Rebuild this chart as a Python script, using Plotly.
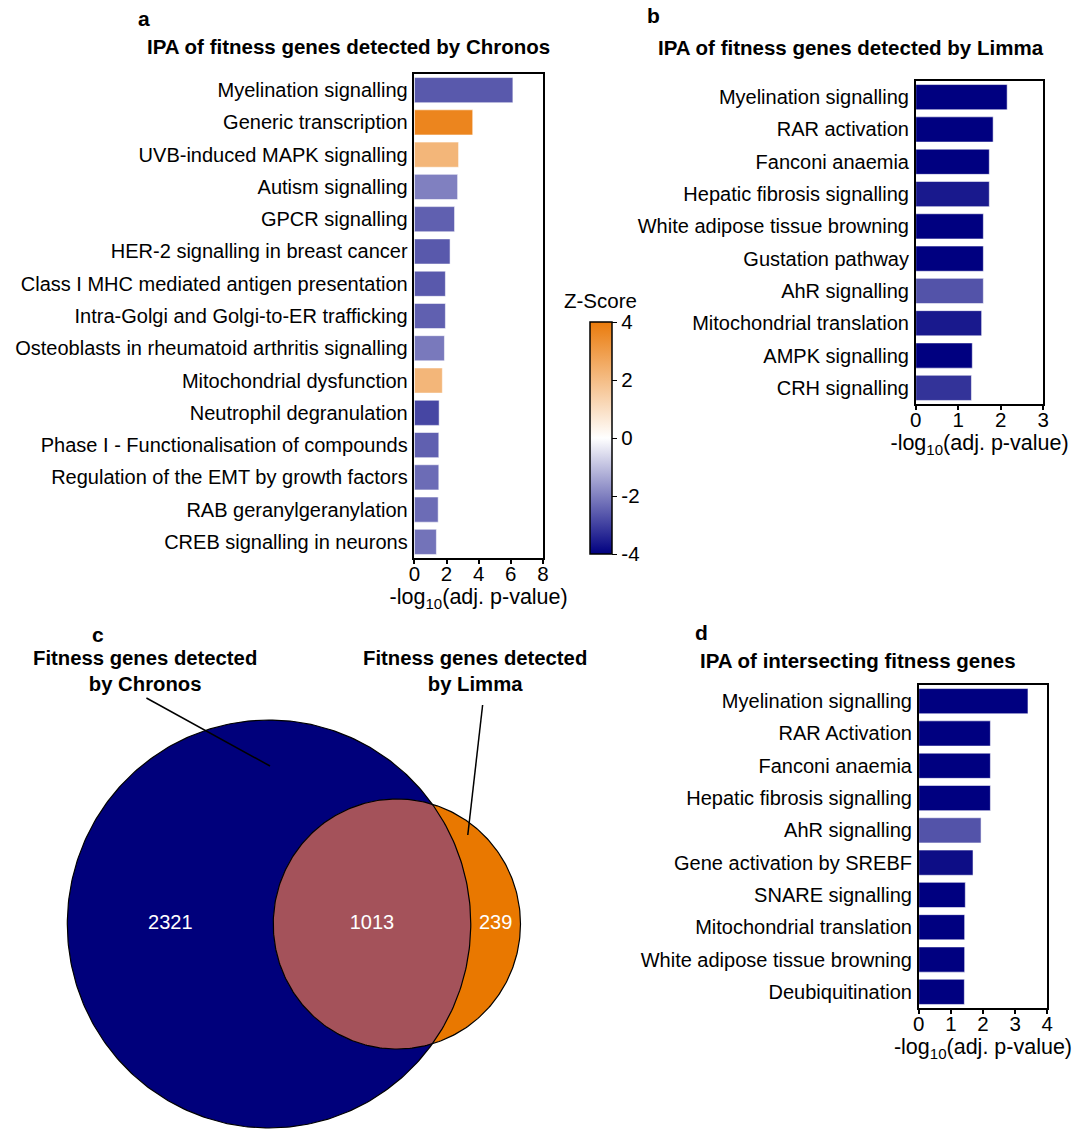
import numpy as np
import plotly.graph_objects as go

W, H = 1076, 1129
FONT = "Liberation Sans, Arial, sans-serif"

# ---- panel a: IPA, Chronos fitness genes ----
a_paths = [
    "Myelination signalling", "Generic transcription", "UVB-induced MAPK signalling",
    "Autism signalling", "GPCR signalling", "HER-2 signalling in breast cancer",
    "Class I MHC mediated antigen presentation", "Intra-Golgi and Golgi-to-ER trafficking",
    "Osteoblasts in rheumatoid arthritis signalling", "Mitochondrial dysfunction",
    "Neutrophil degranulation", "Phase I - Functionalisation of compounds",
    "Regulation of the EMT by growth factors", "RAB geranylgeranylation",
    "CREB signalling in neurons",
]
a_logp = [6.13, 3.63, 2.75, 2.69, 2.50, 2.22, 1.93, 1.93, 1.87, 1.74, 1.54, 1.52, 1.52, 1.48, 1.37]
a_z = [-2.6, 3.7, 2.2, -2.0, -2.5, -2.6, -2.6, -2.5, -2.1, 2.2, -2.9, -2.5, -2.3, -2.3, -2.2]

# ---- panel b: IPA, Limma fitness genes ----
b_paths = [
    "Myelination signalling", "RAR activation", "Fanconi anaemia", "Hepatic fibrosis signalling",
    "White adipose tissue browning", "Gustation pathway", "AhR signalling",
    "Mitochondrial translation", "AMPK signalling", "CRH signalling",
]
b_logp = [2.15, 1.82, 1.73, 1.73, 1.59, 1.59, 1.59, 1.55, 1.33, 1.31]
b_z = [-4.0, -4.0, -4.0, -3.6, -4.0, -4.0, -2.7, -3.6, -4.0, -3.2]

# ---- panel d: IPA, intersecting fitness genes ----
d_paths = [
    "Myelination signalling", "RAR Activation", "Fanconi anaemia", "Hepatic fibrosis signalling",
    "AhR signalling", "Gene activation by SREBF", "SNARE signalling",
    "Mitochondrial translation", "White adipose tissue browning", "Deubiquitination",
]
d_logp = [3.40, 2.23, 2.23, 2.23, 1.94, 1.69, 1.45, 1.43, 1.43, 1.42]
d_z = [-4.0, -4.0, -4.0, -4.0, -2.7, -3.8, -4.0, -4.0, -4.0, -4.0]

# ---- panel c: Venn counts ----
venn_sets = ["Chronos only", "Both", "Limma only"]
venn_counts = [2321, 1013, 239]

# colour bar ticks
z_ticks = [-4, -2, 0, 2, 4]
z_ticktext = ["-4", "-2", "0", "2", "4"]

ZSCALE = [[0.0, "#000080"], [0.5, "#ffffff"], [1.0, "#ea7b0c"]]
NAVY, ORANGE, LENS = "#00007b", "#e97800", "#a4525a"


def px_x(p):
    return p / W


def px_y(p):
    return 1 - p / H


fig = go.Figure()


def add_bars(names, vals, zs, xa, ya, showscale=False):
    fig.add_trace(go.Bar(
        y=names, x=vals, orientation="h", xaxis=xa, yaxis=ya,
        marker=dict(
            color=zs, colorscale=ZSCALE, cmin=-4, cmax=4, showscale=showscale,
            line=dict(color="rgba(255,255,255,0.55)", width=1),
            colorbar=dict(
                x=px_x(591), xanchor="left", xpad=0, ypad=0,
                y=px_y(554), yanchor="bottom", len=232 / H, lenmode="fraction",
                thickness=22, thicknessmode="pixels",
                tickvals=z_ticks, ticktext=z_ticktext, ticks="outside", ticklen=5,
                tickcolor="black", tickfont=dict(size=20.5, family=FONT, color="black"),
                outlinecolor="black", outlinewidth=1.5,
            ) if showscale else None,
        ),
        hoverinfo="x+y", showlegend=False,
    ))


add_bars(a_paths, a_logp, a_z, "x", "y", showscale=True)
add_bars(b_paths, b_logp, b_z, "x2", "y2")
add_bars(d_paths, d_logp, d_z, "x3", "y3")

# ---- Venn geometry: circle areas proportional to set sizes ----
nA = venn_counts[0] + venn_counts[1]
nB = venn_counts[1] + venn_counts[2]
r1, r2 = np.sqrt(nA), np.sqrt(nB)
target = venn_counts[1] * np.pi  # overlap area in the same units


def lens_area(d):
    c1 = np.clip((d * d + r1 * r1 - r2 * r2) / (2 * d * r1), -1, 1)
    c2 = np.clip((d * d + r2 * r2 - r1 * r1) / (2 * d * r2), -1, 1)
    k = (-d + r1 + r2) * (d + r1 - r2) * (d - r1 + r2) * (d + r1 + r2)
    return r1 * r1 * np.arccos(c1) + r2 * r2 * np.arccos(c2) - 0.5 * np.sqrt(max(k, 0))


lo, hi = r1 - r2 + 1e-9, r1 + r2 - 1e-9
for _ in range(80):
    mid = 0.5 * (lo + hi)
    if lens_area(mid) > target:
        lo = mid
    else:
        hi = mid
dist = 0.5 * (lo + hi)

t = np.linspace(0, 2 * np.pi, 361)
bx, by = r1 * np.cos(t), r1 * np.sin(t)
sx, sy = dist + r2 * np.cos(t), r2 * np.sin(t)

xi = (dist ** 2 + r1 ** 2 - r2 ** 2) / (2 * dist)
yi = np.sqrt(r1 ** 2 - xi ** 2)
th = np.arctan2(yi, xi)
ph = np.arctan2(yi, xi - dist)
ta = np.linspace(-th, th, 120)
tb = np.linspace(ph, 2 * np.pi - ph, 200)
lx = np.concatenate([r1 * np.cos(ta), dist + r2 * np.cos(tb)])
ly = np.concatenate([r1 * np.sin(ta), r2 * np.sin(tb)])

for xs, ys, col in [(bx, by, NAVY), (sx, sy, ORANGE), (lx, ly, LENS)]:
    fig.add_trace(go.Scatter(x=xs, y=ys, xaxis="x4", yaxis="y4", mode="lines",
                             fill="toself", fillcolor=col, line=dict(width=0, color=col),
                             hoverinfo="skip", showlegend=False))
for xs, ys in [(bx, by), (sx, sy)]:
    fig.add_trace(go.Scatter(x=xs, y=ys, xaxis="x4", yaxis="y4", mode="lines",
                             line=dict(width=1.2, color="black"),
                             hoverinfo="skip", showlegend=False))

label_x = [(-r1 + dist - r2) / 2, (dist - r2 + r1) / 2, (r1 + dist + r2) / 2]
fig.add_trace(go.Scatter(
    x=label_x, y=[0, 0, 0], xaxis="x4", yaxis="y4", mode="text",
    text=[str(v) for v in venn_counts], customdata=venn_sets,
    textfont=dict(size=20, color="white", family=FONT),
    hovertemplate="%{customdata}: %{text}<extra></extra>", showlegend=False,
))

# pixel scale of the Venn axes
ppu = 204 / r1
cx_px, cy_px = 266, 924
venn_xrange = [(0 - cx_px) / ppu, (540 - cx_px) / ppu]
venn_yrange = [-(H - cy_px) / ppu, (cy_px - 620) / ppu]

tickfont = dict(size=20.5, family=FONT, color="black")
labfont = dict(size=20, family=FONT, color="black")


def xax(dom, rng, dtick):
    return dict(domain=dom, range=rng, dtick=dtick, showline=True, mirror=True,
                linecolor="black", linewidth=1.5, ticks="outside", ticklen=4,
                tickwidth=1.5, tickcolor="black", tickfont=tickfont, showgrid=False,
                zeroline=False, fixedrange=True, ticklabelstandoff=-7,
                title=dict(text="-log<sub>10</sub>(adj. p-value)", standoff=0,
                           font=dict(size=21.5, family=FONT, color="black")))


def yax(dom):
    return dict(domain=dom, autorange="reversed", type="category", showline=True,
                mirror=True, linecolor="black", linewidth=1.5, ticks="",
                tickfont=labfont, showgrid=False, fixedrange=True, ticklabelstandoff=1)


hidden = dict(visible=False, showgrid=False, zeroline=False, fixedrange=True)

fig.update_layout(
    width=W, height=H, margin=dict(l=0, r=0, t=0, b=0),
    paper_bgcolor="white", plot_bgcolor="white",
    font=dict(family=FONT, color="black"),
    bargap=0.22,
    xaxis=dict(xax([px_x(413), px_x(543)], [0, 8], 2), anchor="y"),
    yaxis=dict(yax([px_y(558), px_y(74)]), anchor="x"),
    xaxis2=dict(xax([px_x(920), px_x(1049)], [0, 3], 1), anchor="y2"),
    yaxis2=dict(yax([px_y(404), px_y(81)]), anchor="x2"),
    xaxis3=dict(xax([px_x(923), px_x(1053)], [0, 4], 1), anchor="y3"),
    yaxis3=dict(yax([px_y(1008), px_y(685)]), anchor="x3"),
    xaxis4=dict(hidden, domain=[0, px_x(540)], range=venn_xrange, anchor="y4"),
    yaxis4=dict(hidden, domain=[0, px_y(620)], range=venn_yrange, anchor="x4"),
)


def note(text, x, y, size=20.5, bold=True):
    fig.add_annotation(text=f"<b>{text}</b>" if bold else text, x=px_x(x), y=px_y(y),
                       xref="paper", yref="paper", showarrow=False,
                       xanchor="center", yanchor="middle",
                       font=dict(size=size, family=FONT, color="black"))


note("a", 140, 18, 21)
note("b", 655, 15, 21)
note("c", 93, 634, 21)
note("d", 703, 632, 21)
note("IPA of fitness genes detected by Chronos", 346, 47)
note("IPA of fitness genes detected by Limma", 855, 48)
note("IPA of intersecting fitness genes", 862, 660)
note("Z-Score", 601, 300, 20.5, bold=False)
note("Fitness genes detected<br>by Chronos", 141, 671, 20.3)
note("Fitness genes detected<br>by Limma", 474, 671, 20.3)

for (x0, y0, x1, y1) in [(142, 698, 267, 766), (482, 705, 467, 835)]:
    fig.add_shape(type="line", xref="paper", yref="paper",
                  x0=px_x(x0), y0=px_y(y0), x1=px_x(x1), y1=px_y(y1),
                  line=dict(color="black", width=1.5))

fig.write_html("out.html")
